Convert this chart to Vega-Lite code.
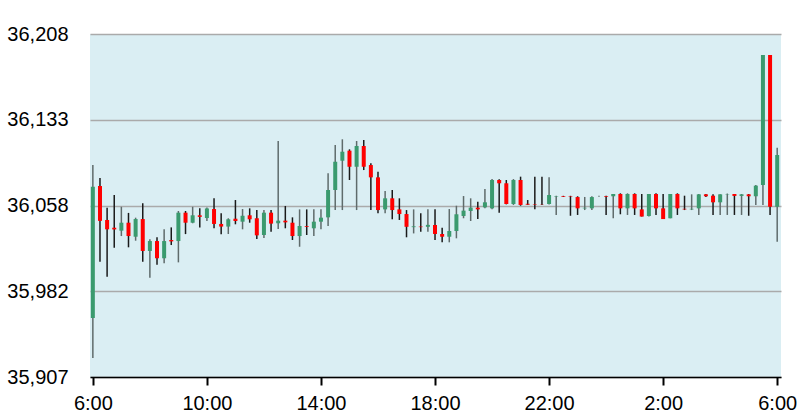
{
  "$schema": "https://vega.github.io/schema/vega-lite/v6.json",
  "width": 691,
  "height": 343,
  "autosize": {"type": "none"},
  "padding": {"left": 90, "top": 34, "right": 28, "bottom": 40},
  "background": "#ffffff",
  "config": {
    "view": {"fill": "#daeef3", "stroke": null},
    "axis": {"labelFont": "Liberation Sans", "labelFontSize": 20, "labelColor": "#000000", "titleFont": "Liberation Sans"}
  },
  "data": {
    "values": [
      {"t": "2024-01-01T06:00:00", "o": 35958.8, "h": 36093, "l": 35923.7, "c": 36074},
      {"t": "2024-01-01T06:15:00", "o": 36074.6, "h": 36081.6, "l": 36008.2, "c": 36044},
      {"t": "2024-01-01T06:30:00", "o": 36044.8, "h": 36055.6, "l": 35995, "c": 36036.6},
      {"t": "2024-01-01T06:45:00", "o": 36038, "h": 36066.7, "l": 36020.5, "c": 36036.5},
      {"t": "2024-01-01T07:00:00", "o": 36035.4, "h": 36056.4, "l": 36030.7, "c": 36042.4},
      {"t": "2024-01-01T07:15:00", "o": 36042.4, "h": 36051, "l": 36020.8, "c": 36030.7},
      {"t": "2024-01-01T07:30:00", "o": 36030.1, "h": 36046.8, "l": 36026.6, "c": 36045.6},
      {"t": "2024-01-01T07:45:00", "o": 36045.6, "h": 36059.4, "l": 36008.2, "c": 36017.6},
      {"t": "2024-01-01T08:00:00", "o": 36017.6, "h": 36027.8, "l": 35994, "c": 36026.3},
      {"t": "2024-01-01T08:15:00", "o": 36026.3, "h": 36029.6, "l": 36005.5, "c": 36011.2},
      {"t": "2024-01-01T08:30:00", "o": 36011.2, "h": 36036.6, "l": 36006.8, "c": 36026.3},
      {"t": "2024-01-01T08:45:00", "o": 36027.2, "h": 36038.3, "l": 36022.8, "c": 36026},
      {"t": "2024-01-01T09:00:00", "o": 36026.3, "h": 36052.7, "l": 36007.6, "c": 36051.2},
      {"t": "2024-01-01T09:15:00", "o": 36051.2, "h": 36052.7, "l": 36032.4, "c": 36042.4},
      {"t": "2024-01-01T09:30:00", "o": 36042.4, "h": 36056.4, "l": 36041.9, "c": 36048.9},
      {"t": "2024-01-01T09:45:00", "o": 36048.9, "h": 36055, "l": 36038.3, "c": 36047.5},
      {"t": "2024-01-01T10:00:00", "o": 36046.5, "h": 36055.8, "l": 36043.9, "c": 36054.9},
      {"t": "2024-01-01T10:15:00", "o": 36054.4, "h": 36063.8, "l": 36037.5, "c": 36041.3},
      {"t": "2024-01-01T10:30:00", "o": 36041.3, "h": 36050.6, "l": 36032.2, "c": 36039},
      {"t": "2024-01-01T10:45:00", "o": 36039, "h": 36046.3, "l": 36032.5, "c": 36045.4},
      {"t": "2024-01-01T11:00:00", "o": 36045.9, "h": 36062.3, "l": 36041, "c": 36043.9},
      {"t": "2024-01-01T11:15:00", "o": 36043.3, "h": 36054.4, "l": 36036.6, "c": 36048.5},
      {"t": "2024-01-01T11:30:00", "o": 36048.9, "h": 36055, "l": 36042.4, "c": 36045.4},
      {"t": "2024-01-01T11:45:00", "o": 36046.3, "h": 36053.5, "l": 36028.1, "c": 36031.3},
      {"t": "2024-01-01T12:00:00", "o": 36031.6, "h": 36053.5, "l": 36029, "c": 36051.2},
      {"t": "2024-01-01T12:15:00", "o": 36051.2, "h": 36053.5, "l": 36034.5, "c": 36041.6},
      {"t": "2024-01-01T12:30:00", "o": 36041.9, "h": 36114.1, "l": 36036.9, "c": 36044.2},
      {"t": "2024-01-01T12:45:00", "o": 36044.2, "h": 36057.1, "l": 36037.5, "c": 36042.7},
      {"t": "2024-01-01T13:00:00", "o": 36042.4, "h": 36047.1, "l": 36027.2, "c": 36030.7},
      {"t": "2024-01-01T13:15:00", "o": 36030.7, "h": 36054.1, "l": 36021.3, "c": 36039.5},
      {"t": "2024-01-01T13:30:00", "o": 36039.5, "h": 36054.1, "l": 36031.6, "c": 36038.8},
      {"t": "2024-01-01T13:45:00", "o": 36037.5, "h": 36054.1, "l": 36030.7, "c": 36043.3},
      {"t": "2024-01-01T14:00:00", "o": 36043.3, "h": 36054.1, "l": 36036.6, "c": 36046.8},
      {"t": "2024-01-01T14:15:00", "o": 36047.1, "h": 36085.8, "l": 36039.5, "c": 36071.1},
      {"t": "2024-01-01T14:30:00", "o": 36071.1, "h": 36110.6, "l": 36053.5, "c": 36095.9},
      {"t": "2024-01-01T14:45:00", "o": 36096.8, "h": 36115.6, "l": 36053.5, "c": 36104.7},
      {"t": "2024-01-01T15:00:00", "o": 36105.6, "h": 36106.8, "l": 36079.9, "c": 36091.5},
      {"t": "2024-01-01T15:15:00", "o": 36091.5, "h": 36114.1, "l": 36053.5, "c": 36109.7},
      {"t": "2024-01-01T15:30:00", "o": 36109.7, "h": 36115, "l": 36088.6, "c": 36091.5},
      {"t": "2024-01-01T15:45:00", "o": 36093, "h": 36094.5, "l": 36053.5, "c": 36082.2},
      {"t": "2024-01-01T16:00:00", "o": 36082.2, "h": 36087.2, "l": 36050.6, "c": 36053.5},
      {"t": "2024-01-01T16:15:00", "o": 36054.1, "h": 36070.2, "l": 36050.6, "c": 36063.8},
      {"t": "2024-01-01T16:30:00", "o": 36063.8, "h": 36071.1, "l": 36045.4, "c": 36053.5},
      {"t": "2024-01-01T16:45:00", "o": 36054.1, "h": 36063.8, "l": 36044.8, "c": 36050},
      {"t": "2024-01-01T17:00:00", "o": 36050, "h": 36053.5, "l": 36029.6, "c": 36038.8},
      {"t": "2024-01-01T17:15:00", "o": 36038.5, "h": 36054.1, "l": 36033, "c": 36039.2},
      {"t": "2024-01-01T17:30:00", "o": 36039, "h": 36050.6, "l": 36034.5, "c": 36038.5},
      {"t": "2024-01-01T17:45:00", "o": 36038.8, "h": 36054.1, "l": 36034.5, "c": 36040.5},
      {"t": "2024-01-01T18:00:00", "o": 36040.4, "h": 36054.1, "l": 36027.2, "c": 36032.5},
      {"t": "2024-01-01T18:15:00", "o": 36032.5, "h": 36038, "l": 36025.2, "c": 36030.1},
      {"t": "2024-01-01T18:30:00", "o": 36030.1, "h": 36054.4, "l": 36025.2, "c": 36035.1},
      {"t": "2024-01-01T18:45:00", "o": 36035.1, "h": 36057.3, "l": 36028.7, "c": 36049.8},
      {"t": "2024-01-01T19:00:00", "o": 36048.3, "h": 36065.8, "l": 36046.3, "c": 36053},
      {"t": "2024-01-01T19:15:00", "o": 36052.7, "h": 36063.8, "l": 36043.9, "c": 36055.6},
      {"t": "2024-01-01T19:30:00", "o": 36055.6, "h": 36060.8, "l": 36045.6, "c": 36054.1},
      {"t": "2024-01-01T19:45:00", "o": 36055.9, "h": 36072, "l": 36055, "c": 36060.3},
      {"t": "2024-01-01T20:00:00", "o": 36055, "h": 36080.7, "l": 36054.1, "c": 36079.9},
      {"t": "2024-01-01T20:15:00", "o": 36079.9, "h": 36080.5, "l": 36051.2, "c": 36077},
      {"t": "2024-01-01T20:30:00", "o": 36077, "h": 36079.9, "l": 36058.5, "c": 36058.8},
      {"t": "2024-01-01T20:45:00", "o": 36058.8, "h": 36080.7, "l": 36058, "c": 36079.9},
      {"t": "2024-01-01T21:00:00", "o": 36079.9, "h": 36082.8, "l": 36057.3, "c": 36058},
      {"t": "2024-01-01T21:15:00", "o": 36059, "h": 36062.3, "l": 36058, "c": 36058.2},
      {"t": "2024-01-01T21:30:00", "o": 36058.4, "h": 36082.8, "l": 36054.1, "c": 36058},
      {"t": "2024-01-01T21:45:00", "o": 36058.2, "h": 36082.8, "l": 36058, "c": 36058},
      {"t": "2024-01-01T22:00:00", "o": 36058.8, "h": 36082.2, "l": 36058.3, "c": 36066.7},
      {"t": "2024-01-01T22:15:00", "o": 36065.2, "h": 36066, "l": 36049.2, "c": 36065.6},
      {"t": "2024-01-01T22:30:00", "o": 36065.6, "h": 36066, "l": 36065, "c": 36065},
      {"t": "2024-01-01T22:45:00", "o": 36065.6, "h": 36066, "l": 36048.5, "c": 36065.2},
      {"t": "2024-01-01T23:00:00", "o": 36064.9, "h": 36065.6, "l": 36049.2, "c": 36055},
      {"t": "2024-01-01T23:15:00", "o": 36055, "h": 36065, "l": 36053.5, "c": 36055.5},
      {"t": "2024-01-01T23:30:00", "o": 36055, "h": 36065.6, "l": 36053.5, "c": 36064.9},
      {"t": "2024-01-01T23:45:00", "o": 36065.6, "h": 36066, "l": 36065.2, "c": 36065.6},
      {"t": "2024-01-02T00:00:00", "o": 36065.6, "h": 36066, "l": 36049.2, "c": 36065},
      {"t": "2024-01-02T00:15:00", "o": 36065.6, "h": 36067.6, "l": 36046.3, "c": 36067.6},
      {"t": "2024-01-02T00:30:00", "o": 36067.6, "h": 36068.2, "l": 36049.8, "c": 36055},
      {"t": "2024-01-02T00:45:00", "o": 36055, "h": 36068.2, "l": 36049.2, "c": 36067.6},
      {"t": "2024-01-02T01:00:00", "o": 36067.6, "h": 36068.2, "l": 36049.2, "c": 36055},
      {"t": "2024-01-02T01:15:00", "o": 36054.1, "h": 36067.6, "l": 36047.8, "c": 36047.8},
      {"t": "2024-01-02T01:30:00", "o": 36048.3, "h": 36067.6, "l": 36047.8, "c": 36067.6},
      {"t": "2024-01-02T01:45:00", "o": 36067.6, "h": 36068.2, "l": 36049.2, "c": 36055},
      {"t": "2024-01-02T02:00:00", "o": 36055, "h": 36067.6, "l": 36045.6, "c": 36045.6},
      {"t": "2024-01-02T02:15:00", "o": 36046.3, "h": 36067.6, "l": 36046.3, "c": 36067.6},
      {"t": "2024-01-02T02:30:00", "o": 36067.6, "h": 36068.2, "l": 36049.2, "c": 36055},
      {"t": "2024-01-02T02:45:00", "o": 36054.6, "h": 36066.1, "l": 36053.5, "c": 36054.1},
      {"t": "2024-01-02T03:00:00", "o": 36054.1, "h": 36067.3, "l": 36053.5, "c": 36054.6},
      {"t": "2024-01-02T03:15:00", "o": 36055, "h": 36067.6, "l": 36049.2, "c": 36067.3},
      {"t": "2024-01-02T03:30:00", "o": 36067.3, "h": 36067.6, "l": 36065, "c": 36065.6},
      {"t": "2024-01-02T03:45:00", "o": 36066.1, "h": 36067.3, "l": 36049.2, "c": 36060.3},
      {"t": "2024-01-02T04:00:00", "o": 36060.3, "h": 36067.3, "l": 36049.2, "c": 36067.3},
      {"t": "2024-01-02T04:15:00", "o": 36067.3, "h": 36068, "l": 36049.2, "c": 36067.6},
      {"t": "2024-01-02T04:30:00", "o": 36067.6, "h": 36067.6, "l": 36049.2, "c": 36065.9},
      {"t": "2024-01-02T04:45:00", "o": 36065.9, "h": 36067.6, "l": 36049.2, "c": 36067.3},
      {"t": "2024-01-02T05:00:00", "o": 36067.3, "h": 36067.6, "l": 36048.5, "c": 36065.6},
      {"t": "2024-01-02T05:15:00", "o": 36065.6, "h": 36075.5, "l": 36058, "c": 36074.9},
      {"t": "2024-01-02T05:30:00", "o": 36075.5, "h": 36189.6, "l": 36058, "c": 36189.6},
      {"t": "2024-01-02T05:45:00", "o": 36189.6, "h": 36189.6, "l": 36049.2, "c": 36056.4},
      {"t": "2024-01-02T06:00:00", "o": 36056.4, "h": 36108.2, "l": 36025.7, "c": 36101.8}
    ]
  },
  "encoding": {
    "x": {
      "field": "t",
      "type": "temporal",
      "scale": {"nice": false, "padding": 0, "domain": [
        {"year": 2024, "month": 1, "date": 1, "hours": 5, "minutes": 54},
        {"year": 2024, "month": 1, "date": 2, "hours": 6, "minutes": 8}
      ]},
      "axis": {
        "title": null,
        "format": "%-H:%M",
        "values": [
          {"year": 2024, "month": 1, "date": 1, "hours": 6},
          {"year": 2024, "month": 1, "date": 1, "hours": 10},
          {"year": 2024, "month": 1, "date": 1, "hours": 14},
          {"year": 2024, "month": 1, "date": 1, "hours": 18},
          {"year": 2024, "month": 1, "date": 1, "hours": 22},
          {"year": 2024, "month": 1, "date": 2, "hours": 2},
          {"year": 2024, "month": 1, "date": 2, "hours": 6}
        ],
        "grid": false,
        "domainColor": "#000000",
        "domainWidth": 1.5,
        "tickColor": "#000000",
        "tickWidth": 2,
        "tickSize": 8,
        "labelPadding": 8,
        "labelFlush": false,
        "labelOverlap": false
      }
    },
    "y": {
      "type": "quantitative",
      "scale": {"domain": [35907, 36208], "nice": false, "zero": false},
      "axis": {
        "title": null,
        "values": [35907, 35982.25, 36057.5, 36132.75, 36208],
        "format": ",.0f",
        "domain": false,
        "ticks": false,
        "labelPadding": 22,
        "grid": true,
        "gridColor": "#aaaaaa",
        "gridWidth": 1.5
      }
    }
  },
  "layer": [
    {
      "mark": {"type": "rule", "strokeWidth": 1.5},
      "encoding": {
        "y": {"field": "l", "type": "quantitative"},
        "y2": {"field": "h"},
        "color": {"condition": {"test": "datum.c < datum.o", "value": "#1a1a1a"}, "value": "#5f6b6b"}
      }
    },
    {
      "mark": {"type": "bar", "size": 4},
      "encoding": {
        "y": {"field": "o", "type": "quantitative"},
        "y2": {"field": "c"},
        "color": {"condition": {"test": "datum.c < datum.o", "value": "#ff0000"}, "value": "#3a9a6e"}
      }
    }
  ]
}
